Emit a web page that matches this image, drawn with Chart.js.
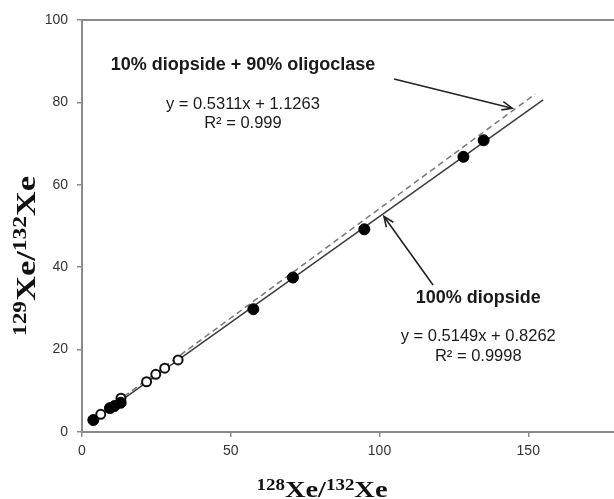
<!DOCTYPE html>
<html><head><meta charset="utf-8">
<script src="https://cdn.jsdelivr.net/npm/chart.js@4"></script>
<style>
html,body{margin:0;padding:0;background:#fff;overflow:hidden;}
#wrap{width:614px;height:499px;overflow:hidden;position:relative;background:#fff;}
#inner{width:700px;height:499px;position:absolute;left:0;top:0;}
</style></head><body>
<div id="wrap"><div id="inner"><canvas id="c" width="700" height="499"></canvas></div></div>
<script>
// 100% diopside (filled circles)
const diopsideX = [3.8, 9.4, 10.9, 13.0, 57.6, 70.9, 94.9, 128.2, 135.0];
const diopsideY = [2.9, 5.8, 6.3, 7.1, 29.8, 37.5, 49.2, 66.8, 70.8];
// 10% diopside + 90% oligoclase (open circles)
const oligoX = [6.3, 13.1, 21.7, 24.8, 27.8, 32.3];
const oligoY = [4.3, 8.2, 12.2, 14.0, 15.5, 17.5];
// trend line end points
const diopsideFitX = [3.8, 155.0];
const diopsideFitY = [2.8, 80.6];
const oligoFitX = [6.0, 152.3];
const oligoFitY = [4.3, 82.0];
// axis ticks
const xTicks = [0, 50, 100, 150, 200];
const yTicks = [0, 20, 40, 60, 80, 100];
// annotation texts (data units)
const noteTexts = ["10% diopside + 90% oligoclase", "y = 0.5311x + 1.1263", "R\u00B2 = 0.999",
                   "100% diopside", "y = 0.5149x + 0.8262", "R\u00B2 = 0.9998"];
const noteX = [54.1, 54.1, 54.1, 133.2, 133.2, 133.2];
const noteY = [89.1, 79.6, 75.0, 32.5, 23.1, 18.4];
const noteBold = [true, false, false, true, false, false];
// arrows: tail -> head (data units)
const arrowTailX = [104.9, 118.0];
const arrowTailY = [85.7, 35.7];
const arrowHeadX = [144.6, 101.5];
const arrowHeadY = [78.6, 52.3];

const pts = (xs, ys) => xs.map((x, i) => ({x: x, y: ys[i]}));

const annot = {
  id: 'annot',
  afterDatasetsDraw(chart) {
    const ctx = chart.ctx, xs = chart.scales.x, ys = chart.scales.y, ca = chart.chartArea;
    ctx.save();
    // top border
    ctx.strokeStyle = '#8a8a8a'; ctx.lineWidth = 2;
    ctx.beginPath(); ctx.moveTo(ca.left - 1, ca.top); ctx.lineTo(ca.right, ca.top); ctx.stroke();
    // texts
    ctx.fillStyle = '#1a1a1a'; ctx.textAlign = 'center'; ctx.textBaseline = 'middle';
    noteTexts.forEach((t, i) => {
      ctx.font = noteBold[i] ? 'bold 18px "Liberation Sans", Arial, sans-serif' : '16.5px "Liberation Sans", Arial, sans-serif';
      ctx.fillText(t, xs.getPixelForValue(noteX[i]), ys.getPixelForValue(noteY[i]));
    });
    // arrows
    ctx.strokeStyle = '#222'; ctx.lineWidth = 1.6;
    arrowTailX.forEach((_, i) => {
      const x1 = xs.getPixelForValue(arrowTailX[i]), y1 = ys.getPixelForValue(arrowTailY[i]);
      const x2 = xs.getPixelForValue(arrowHeadX[i]), y2 = ys.getPixelForValue(arrowHeadY[i]);
      const a = Math.atan2(y2 - y1, x2 - x1), h = 11, w = 0.4;
      ctx.beginPath(); ctx.moveTo(x1, y1); ctx.lineTo(x2, y2); ctx.stroke();
      ctx.beginPath();
      ctx.moveTo(x2 - h * Math.cos(a - w), y2 - h * Math.sin(a - w));
      ctx.lineTo(x2, y2);
      ctx.lineTo(x2 - h * Math.cos(a + w), y2 - h * Math.sin(a + w));
      ctx.stroke();
    });
    // axis titles with superscripts, stretched along the text to a target length
    function title(parts, cx, cy, big, small, rot, len) {
      ctx.save();
      ctx.translate(cx, cy); ctx.rotate(rot);
      ctx.textAlign = 'left'; ctx.textBaseline = 'alphabetic'; ctx.fillStyle = '#111';
      let total = 0;
      parts.forEach(p => { ctx.font = 'bold ' + (p.sup ? small : big) + 'px "Liberation Serif", "Times New Roman", serif'; total += ctx.measureText(p.t).width; });
      ctx.scale(len / total, 1);
      let x = -total / 2;
      const base = big * 0.34;
      parts.forEach(p => {
        ctx.font = 'bold ' + (p.sup ? small : big) + 'px "Liberation Serif", "Times New Roman", serif';
        ctx.fillText(p.t, x, p.sup ? base - big * 0.3 : base);
        x += ctx.measureText(p.t).width;
      });
      ctx.restore();
    }
    title([{t:'128',sup:true},{t:'Xe/'},{t:'132',sup:true},{t:'Xe'}], 322, 489, 24, 16, 0, 131);
    title([{t:'129',sup:true},{t:'Xe/'},{t:'132',sup:true},{t:'Xe'}], 25, 256, 28, 19, -Math.PI / 2, 160);
    ctx.restore();
  }
};

const tickFont = {family: '"Liberation Sans", Arial, sans-serif', size: 14};

new Chart(document.getElementById('c'), {
  type: 'scatter',
  data: {
    datasets: [
      {label: '100% diopside', data: pts(diopsideX, diopsideY), pointRadius: 5.5, pointBackgroundColor: '#000',
       pointBorderColor: '#000', borderWidth: 1, showLine: false, order: 0},
      {label: '10% diopside + 90% oligoclase', data: pts(oligoX, oligoY), pointRadius: 4.5, pointBackgroundColor: '#fff',
       pointBorderColor: '#111', pointBorderWidth: 2, showLine: false, order: 1},
      {label: 'fit diopside', data: pts(diopsideFitX, diopsideFitY), showLine: true, pointRadius: 0,
       borderColor: '#3c3c3c', borderWidth: 1.5, order: 3},
      {label: 'fit oligoclase', data: pts(oligoFitX, oligoFitY), showLine: true, pointRadius: 0,
       borderColor: '#777', borderWidth: 1.5, borderDash: [6, 4], order: 2}
    ]
  },
  options: {
    responsive: false, animation: false, devicePixelRatio: 1,
    layout: {padding: {top: 20, right: 23, left: 0, bottom: 0}},
    plugins: {legend: {display: false}, tooltip: {enabled: false}},
    scales: {
      x: {type: 'linear', min: 0, max: 200,
          afterBuildTicks: s => { s.ticks = xTicks.map(v => ({value: v})); },
          afterFit: s => { s.height = 67; },
          ticks: {font: tickFont, color: '#333', padding: 6, maxRotation: 0},
          grid: {drawOnChartArea: false, drawTicks: true, tickLength: 5, color: '#8a8a8a', lineWidth: 1.5},
          border: {display: true, color: '#8a8a8a', width: 2}},
      y: {type: 'linear', min: 0, max: 100,
          afterBuildTicks: s => { s.ticks = yTicks.map(v => ({value: v})); },
          afterFit: s => { s.width = 82; },
          ticks: {font: tickFont, color: '#333', padding: 9},
          grid: {drawOnChartArea: false, drawTicks: true, tickLength: 5, color: '#8a8a8a', lineWidth: 1.5},
          border: {display: true, color: '#8a8a8a', width: 2}}
    }
  },
  plugins: [annot]
});
</script>
</body></html>
